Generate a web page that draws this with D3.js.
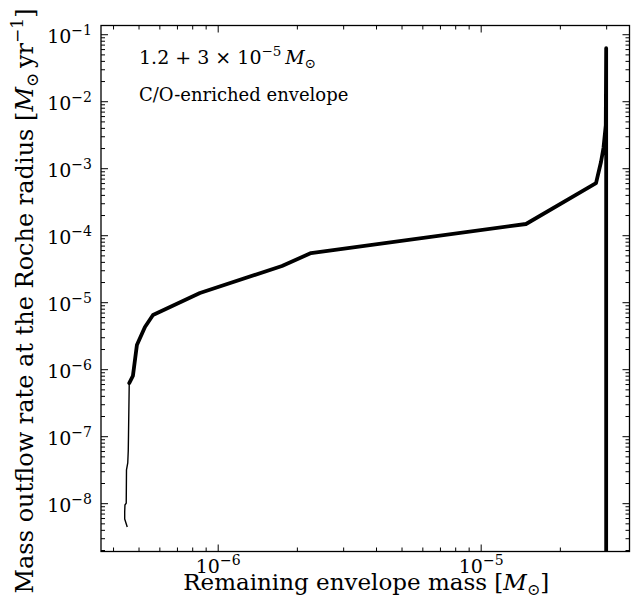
<!DOCTYPE html>
<html>
<head>
<meta charset="utf-8">
<script src="https://cdn.jsdelivr.net/npm/d3@7"></script>
<style>
  body { margin: 0; background: #fff; }
  svg { display: block; }
  text { font-family: "DejaVu Serif", "Liberation Serif", serif; fill: #000; }
</style>
</head>
<body>
<script>
// Late phase: rate rises at ~3e-5 Msun, then falls as the envelope is stripped
const thickMass = [3.0e-5, 3.0e-5, 2.99e-5, 2.93e-5, 2.867e-5, 2.745e-5, 1.487e-5, 2.264e-6, 1.756e-6, 8.56e-7, 5.675e-7, 5.29e-7, 4.93e-7, 4.76e-7, 4.61e-7];
const thickRate = [1e-10, 6.2e-2, 4.4e-3, 2.0e-3, 1.24e-3, 6.0e-4, 1.47e-4, 5.42e-5, 3.47e-5, 1.37e-5, 6.44e-6, 4.27e-6, 2.30e-6, 7.92e-7, 6.22e-7];

// Final tail at low outflow rates
const thinMass = [4.61e-7, 4.58e-7, 4.57e-7, 4.55e-7, 4.50e-7, 4.49e-7, 4.44e-7, 4.43e-7, 4.43e-7, 4.53e-7];
const thinRate = [6.22e-7, 1.04e-7, 6.0e-8, 3.98e-8, 3.13e-8, 1.0e-8, 9.4e-9, 7.4e-9, 5.8e-9, 4.4e-9];

const xMajor = [1e-6, 1e-5];
const xMajorExp = [-6, -5];
const yMajor = [1e-8, 1e-7, 1e-6, 1e-5, 1e-4, 1e-3, 1e-2, 1e-1];
const yMajorExp = [-8, -7, -6, -5, -4, -3, -2, -1];

const xDomain = [3.6e-7, 3.68e-5];
const yDomain = [1.9e-9, 0.135];

const W = 638, H = 610;
const M = { left: 101, right: 8.5, top: 25.5, bottom: 58.5 };

const svg = d3.select("body").append("svg").attr("width", W).attr("height", H);

const x = d3.scaleLog().domain(xDomain).range([M.left, W - M.right]);
const y = d3.scaleLog().domain(yDomain).range([H - M.bottom, M.top]);

function minors(dom) {
  const out = [];
  const lo = Math.floor(Math.log10(dom[0])), hi = Math.ceil(Math.log10(dom[1]));
  for (let e = lo; e <= hi; e++) {
    for (let m = 2; m <= 9; m++) {
      const v = m * Math.pow(10, e);
      if (v >= dom[0] && v <= dom[1]) out.push(v);
    }
  }
  return out;
}
const xMinor = minors(xDomain);
const yMinor = minors(yDomain);

const majorLen = 7, minorLen = 4;
const plotW = W - M.left - M.right, plotH = H - M.top - M.bottom;

function styleAxis(g) {
  g.select(".domain").remove();
  g.selectAll(".tick line").attr("stroke", "#000").attr("stroke-width", 1);
}

// inward ticks on all four sides
svg.append("g").attr("transform", `translate(0,${H - M.bottom})`)
  .call(d3.axisBottom(x).tickValues(xMinor).tickSize(-minorLen).tickFormat(""))
  .call(styleAxis);
svg.append("g").attr("transform", `translate(0,${M.top})`)
  .call(d3.axisTop(x).tickValues(xMinor).tickSize(-minorLen).tickFormat(""))
  .call(styleAxis);
svg.append("g").attr("transform", `translate(0,${M.top})`)
  .call(d3.axisTop(x).tickValues(xMajor).tickSize(-majorLen).tickFormat(""))
  .call(styleAxis);
svg.append("g").attr("transform", `translate(${M.left},0)`)
  .call(d3.axisLeft(y).tickValues(yMinor).tickSize(-minorLen).tickFormat(""))
  .call(styleAxis);
svg.append("g").attr("transform", `translate(${W - M.right},0)`)
  .call(d3.axisRight(y).tickValues(yMinor).tickSize(-minorLen).tickFormat(""))
  .call(styleAxis);
svg.append("g").attr("transform", `translate(${W - M.right},0)`)
  .call(d3.axisRight(y).tickValues(yMajor).tickSize(-majorLen).tickFormat(""))
  .call(styleAxis);

function powerLabel(exps, values) {
  return function (sel) {
    sel.selectAll(".tick text").each(function (d) {
      const t = d3.select(this);
      const e = exps[values.indexOf(d)];
      t.text(null).attr("font-size", 19).attr("fill", "#000");
      t.append("tspan").text("10");
      t.append("tspan").attr("dy", -8).attr("font-size", 14).text("\u2212" + Math.abs(e));
    });
  };
}

svg.append("g").attr("transform", `translate(0,${H - M.bottom})`)
  .call(d3.axisBottom(x).tickValues(xMajor).tickSize(-majorLen).tickPadding(4))
  .call(styleAxis)
  .call(powerLabel(xMajorExp, xMajor))
  .selectAll(".tick text").attr("dy", 17);

svg.append("g").attr("transform", `translate(${M.left},0)`)
  .call(d3.axisLeft(y).tickValues(yMajor).tickSize(-majorLen).tickPadding(9))
  .call(styleAxis)
  .call(powerLabel(yMajorExp, yMajor))
  .selectAll(".tick text").attr("dy", "0.45em");

// clip the curve to the axes box
svg.append("clipPath").attr("id", "plotclip")
  .append("rect").attr("x", M.left).attr("y", M.top).attr("width", plotW).attr("height", plotH);

const line = d3.line().x(d => x(d[0])).y(d => y(d[1]));
const plot = svg.append("g").attr("clip-path", "url(#plotclip)");

plot.append("path")
  .datum(thinMass.map((m, i) => [m, thinRate[i]]))
  .attr("d", line).attr("fill", "none").attr("stroke", "#000")
  .attr("stroke-width", 1.4).attr("stroke-linejoin", "round");

plot.append("path")
  .datum(thickMass.map((m, i) => [m, thickRate[i]]))
  .attr("d", line).attr("fill", "none").attr("stroke", "#000")
  .attr("stroke-width", 3.8).attr("stroke-linejoin", "round").attr("stroke-linecap", "round");

// axes frame
svg.append("rect").attr("x", M.left).attr("y", M.top).attr("width", plotW).attr("height", plotH)
  .attr("fill", "none").attr("stroke", "#000").attr("stroke-width", 1.3);

// axis titles
const xt = svg.append("text").attr("x", M.left + plotW / 2 + 1).attr("y", 590)
  .attr("text-anchor", "middle").attr("font-size", 23);
xt.append("tspan").text("Remaining envelope mass [");
xt.append("tspan").attr("font-style", "italic").text("M");
xt.append("tspan").attr("dy", 5).attr("font-size", 16).text("\u2299");
xt.append("tspan").attr("dy", -5).text("]");

const yt = svg.append("text").attr("transform", `translate(33,301) rotate(-90)`)
  .attr("text-anchor", "middle").attr("font-size", 24);
yt.append("tspan").text("Mass outflow rate at the Roche radius [");
yt.append("tspan").attr("font-style", "italic").text("M");
yt.append("tspan").attr("dy", 5).attr("font-size", 17).text("\u2299");
yt.append("tspan").attr("dy", -5).text("\u2009yr");
yt.append("tspan").attr("dy", -10).attr("font-size", 17).text("\u22121");
yt.append("tspan").attr("dy", 10).text("]");

// annotation
const a1 = svg.append("text").attr("x", 139).attr("y", 64).attr("font-size", 19);
a1.append("tspan").text("1.2 + 3 \u00d7 10");
a1.append("tspan").attr("dy", -8).attr("font-size", 13.5).text("\u22125");
a1.append("tspan").attr("dy", 8).text("\u2009");
a1.append("tspan").attr("font-style", "italic").text("M");
a1.append("tspan").attr("dy", 4).attr("font-size", 13.5).text("\u2299");

svg.append("text").attr("x", 139).attr("y", 101).attr("font-size", 18)
  .text("C/O-enriched envelope");
</script>
</body>
</html>
